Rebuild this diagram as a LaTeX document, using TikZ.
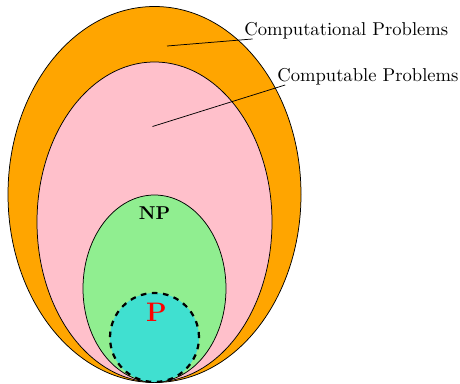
\documentclass[tikz,border=0pt]{standalone}
\usepackage{xcolor}
\usepackage{tikz}
\usetikzlibrary{calc}

\definecolor{setorange}{HTML}{FFA500}
\definecolor{setpink}{HTML}{FFC0CB}
\definecolor{setgreen}{HTML}{90EE90}
\definecolor{setcyan}{HTML}{40E0D0}

\begin{document}
\begin{tikzpicture}[
    x=0.0189cm, y=0.0189cm,
    region/.style={draw, thin},
    lbl/.style={anchor=base west, inner sep=0pt, font=\normalsize},
    pointer/.style={thin}
]
\useasboundingbox (0,0) rectangle (460,383);
% nested classes, all touching at the bottom
\draw[region, fill=setorange] (154.5,188.5) ellipse [x radius=146.5, y radius=188];
\draw[region, fill=setpink] (154.5,161) ellipse [x radius=117.5, y radius=160];
\draw[region, fill=setgreen] (154.5,94.5) ellipse [x radius=71.5, y radius=93.5];
\draw[region, fill=setcyan, very thick, dashed] (154.5,45.5) circle [radius=44.5];
\node[font=\bfseries] (np) at (154.5,170) {NP};
\node[font=\Large\bfseries, text=red] (p) at (156.5,71) {P};
% labels
\node[lbl] (computational) at (244,348) {Computational Problems};
\node[lbl] (computable) at (277,302) {Computable Problems};
\coordinate (inA) at (167,337);
\coordinate (inB) at (152.5,256.5);
\draw[pointer] (inA) -- ([xshift=4.6pt]computational.south west);
\draw[pointer] (inB) -- ([xshift=4.4pt]computable.south west);
\end{tikzpicture}
\end{document}
